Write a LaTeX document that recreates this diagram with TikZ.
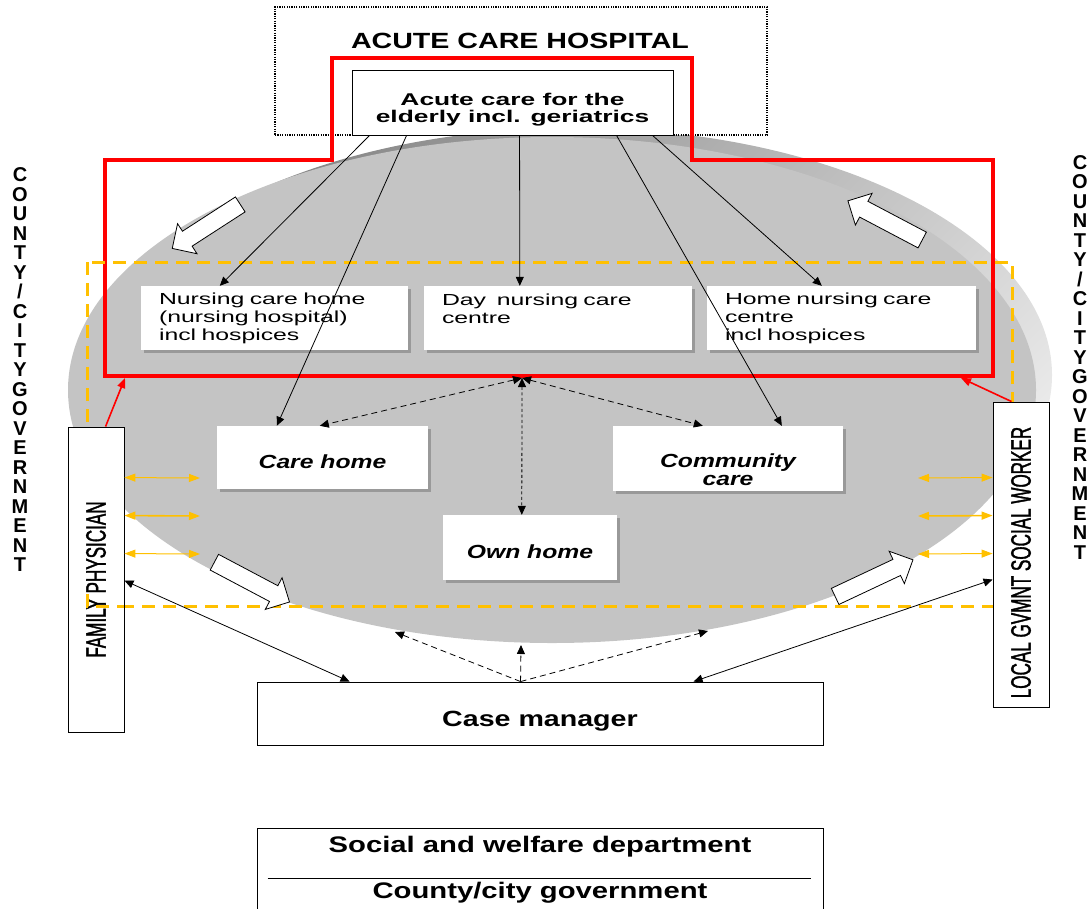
\documentclass[tikz,border=0pt]{standalone}
\usepackage{fontspec}
\setmainfont{Liberation Sans}
\newfontfamily\famW[FakeStretch=1.3]{Liberation Sans}
\newfontfamily\famS[FakeStretch=1.55]{Liberation Sans}
\newfontfamily\famV[FakeStretch=0.61,FakeBold=1.2]{Liberation Sans}
\usetikzlibrary{arrows.meta,shapes.arrows,shadows}
\definecolor{ycol}{HTML}{FFC000}
\definecolor{rcol}{HTML}{FF0000}
\definecolor{facecol}{HTML}{C4C4C4}
\newcommand{\ftitle}{\famW\bfseries\fontsize{22}{26}\selectfont}
\newcommand{\facute}{\famS\bfseries\fontsize{17}{17}\selectfont}
\newcommand{\fsmall}{\famS\fontsize{16}{18}\selectfont}
\newcommand{\fitl}{\famW\bfseries\itshape\fontsize{19}{18}\selectfont}
\newcommand{\fbig}{\famW\bfseries\fontsize{22}{26}\selectfont}
\newcommand{\fdept}{\famW\bfseries\fontsize{22.5}{26}\selectfont}
\newcommand{\fvert}{\famV\fontsize{28}{30}\selectfont}
\newcommand{\fcol}{\bfseries\fontsize{20}{19.5}\selectfont}
\newcommand{\lifth}[1]{\rule{0pt}{#1}}
\begin{document}
\begin{tikzpicture}[x=1pt,y=-1pt,
  wbox/.style={fill=white,draw=none,inner sep=0pt,drop shadow={shadow xshift=2.5pt,shadow yshift=-2.5pt,fill=black!40,opacity=1}},
  lbox/.style={fill=white,draw=black,line width=0.9pt,inner sep=0pt},
  conn/.style={line width=0.8pt,-{Triangle[length=9pt,width=8pt]}},
  bconn/.style={line width=0.8pt,{Triangle[length=9pt,width=8pt]}-{Triangle[length=9pt,width=8pt]}},
  dconn/.style={line width=0.8pt,dash pattern=on 6pt off 4pt,{Triangle[length=9pt,width=8pt]}-{Triangle[length=9pt,width=8pt]}},
  dotconn/.style={line width=0.8pt,dash pattern=on 3pt off 2.5pt,{Triangle[length=9pt,width=8pt]}-{Triangle[length=9pt,width=8pt]}},
  cconn/.style={line width=0.8pt,dash pattern=on 6pt off 4pt,-{Triangle[length=9pt,width=8pt]}},
  yconn/.style={draw=ycol,{Triangle[length=11pt,width=8pt]}-{Triangle[length=11pt,width=8pt]}},
  rconn/.style={draw=rcol,line width=1.6pt,-{Triangle[length=10pt,width=8pt]}},
  ydash/.style={draw=ycol,line width=3pt,dash pattern=on 13pt off 8pt},
  barrow/.style={single arrow,draw=black,fill=white,line width=0.8pt,minimum width=35pt,single arrow head extend=9pt,inner xsep=0pt,inner ysep=8.5pt}
]
\useasboundingbox (0,0) rectangle (1091,908);

% disc
\shade[top color=black!48,bottom color=black!8,shading angle=45]
  (575,375) ellipse [x radius=477,y radius=247];
\fill[facecol] (552,390) ellipse [x radius=484,y radius=253];

% acute care hospital
\node[fill=white,draw=black,line width=1.2pt,dash pattern=on 1.2pt off 1.2pt,minimum width=492pt,minimum height=128pt,inner sep=0pt] (ach) at (521,71) {};
\node[font=\ftitle] (achtitle) at (520,40.5) {ACUTE CARE HOSPITAL};

% red outline
\draw[rcol,line width=4pt] (105,160) -- (332,160) -- (332,58) -- (692,58) -- (692,160) -- (993,160) -- (993,376) -- (105,376) -- cycle;

% yellow dashed
\draw[ydash] (87,262) rectangle (1012,606);

% boxes
\node[lbox,minimum width=321pt,minimum height=65pt,align=center,font=\facute] (acute) at (512.5,102.5) {\lifth{27.5pt}Acute care for the\\elderly incl. geriatrics};

\node[wbox,minimum width=267pt,minimum height=64pt,align=left,text width=231pt,font=\fsmall] (nurs) at (274.5,318) {Nursing care home\\(nursing hospital)\\incl hospices};
\node[wbox,minimum width=268pt,minimum height=64pt,align=left,text width=232pt,font=\fsmall] (day) at (558,318) {Day~ nursing care\\centre\\~};
\node[wbox,minimum width=269pt,minimum height=64pt,align=left,text width=233pt,font=\fsmall] (hn) at (841.5,318) {Home nursing care\\centre\\incl hospices};

\node[wbox,minimum width=211pt,minimum height=63pt,font=\fitl] (care) at (322.5,457.5) {\lifth{21.3pt}Care home};
\node[wbox,minimum width=230pt,minimum height=65pt,align=center,font=\fitl] (comm) at (728,458.5) {\lifth{37pt}Community\\care};
\node[wbox,minimum width=174pt,minimum height=65pt,font=\fitl] (own) at (530,547.5) {\lifth{21.3pt}Own home};

\node[lbox,minimum width=56pt,minimum height=305pt] (fam) at (96,579.5) {\rotatebox{90}{\fvert FAMILY PHYSICIAN}};
\node[lbox,minimum width=56pt,minimum height=305pt] (local) at (1021,554.5) {\rotatebox{90}{\fvert LOCAL GVMNT SOCIAL WORKER\hspace{16pt}}};

\draw[ydash] (87,594) -- (87,606) -- (124,606);

\node[lbox,minimum width=566pt,minimum height=63pt,font=\fbig] (case) at (540,713.5) {\lifth{31.6pt}Case manager};

\node[draw=black,line width=0.9pt,minimum width=566pt,minimum height=110pt,inner sep=0pt,anchor=north] (dept) at (540,828) {};
\draw[line width=0.8pt] ([xshift=11pt,yshift=-50pt]dept.north west) -- ([xshift=-12pt,yshift=-50pt]dept.north east);
\node[font=\fdept] (swd) at (540,847) {Social and welfare department};
\node[font=\fdept] (ccg) at (540,892.5) {County/city government};

% side columns
\node[font=\fcol,align=center,inner sep=0pt] (colL) at (20,370) {C\\O\\U\\N\\T\\Y\\/\\C\\I\\T\\Y\\G\\O\\V\\E\\R\\N\\M\\E\\N\\T};
\node[font=\fcol,align=center,inner sep=0pt] (colR) at (1080,357.5) {C\\O\\U\\N\\T\\Y\\/\\C\\I\\T\\Y\\G\\O\\V\\E\\R\\N\\M\\E\\N\\T};

% block arrows
\node[barrow,rotate=212.9,minimum height=81pt] (ba1) at (210,224) {};
\node[barrow,rotate=152.2,minimum height=84pt] (ba2) at (889,222.5) {};
\node[barrow,rotate=-27.9,minimum height=85pt] (ba3) at (248,580) {};
\node[barrow,rotate=25.2,minimum height=86pt] (ba4) at (870,580) {};

% connectors from acute care
\draw[conn] ([xshift=18pt]acute.south west) -- ([xshift=79pt]nurs.north west);
\draw[conn] ([xshift=55pt]acute.south west) -- ([xshift=60pt]care.north west);
\draw[conn] ([xshift=168pt]acute.south west) -- ([xshift=96pt]day.north west);
\draw[conn] ([xshift=265pt]acute.south west) -- ([xshift=169pt]comm.north west);
\draw[conn] ([xshift=301pt]acute.south west) -- ([xshift=115pt]hn.north west);

% junction dashed
\coordinate (junc) at (522,378);
\draw[dconn] (junc) -- ([xshift=103pt]care.north west);
\draw[dconn] (junc) -- ([xshift=90pt]comm.north west);
\draw[dotconn] (junc) -- ([xshift=79pt]own.north west);

% yellow arrows
\coordinate (yl1) at (200,478);
\coordinate (yl2) at (200,516);
\coordinate (yl3) at (200,554);
\coordinate (yr1) at (918,478);
\coordinate (yr2) at (918,516);
\coordinate (yr3) at (918,554);
\draw[yconn,line width=1pt] ([yshift=-51pt]fam.north east) -- (yl1);
\draw[yconn,line width=1.6pt] ([yshift=-89pt]fam.north east) -- (yl2);
\draw[yconn,line width=1pt] ([yshift=-127pt]fam.north east) -- (yl3);
\draw[yconn,line width=1pt] (yr1) -- ([yshift=-76pt]local.north west);
\draw[yconn,line width=1.6pt] (yr2) -- ([yshift=-114pt]local.north west);
\draw[yconn,line width=1pt] (yr3) -- ([yshift=-152pt]local.north west);

% red arrows
\coordinate (rl) at (125,378);
\coordinate (rr) at (961,378);
\draw[rconn] ([xshift=38pt]fam.north west) -- (rl);
\draw[rconn] ([xshift=19pt]local.north west) -- (rr);

% case manager links
\draw[bconn] ([yshift=-154pt]fam.north east) -- ([xshift=93pt]case.north west);
\draw[bconn] ([yshift=-178pt]local.north west) -- ([xshift=437pt]case.north west);
\coordinate (cm) at ([xshift=264pt]case.north west);
\coordinate (t1) at (395,632);
\coordinate (t2) at (521,645);
\coordinate (t3) at (708,631);
\draw[cconn] (cm) -- (t1);
\draw[cconn] (cm) -- (t2);
\draw[cconn] (cm) -- (t3);
\end{tikzpicture}
\end{document}
